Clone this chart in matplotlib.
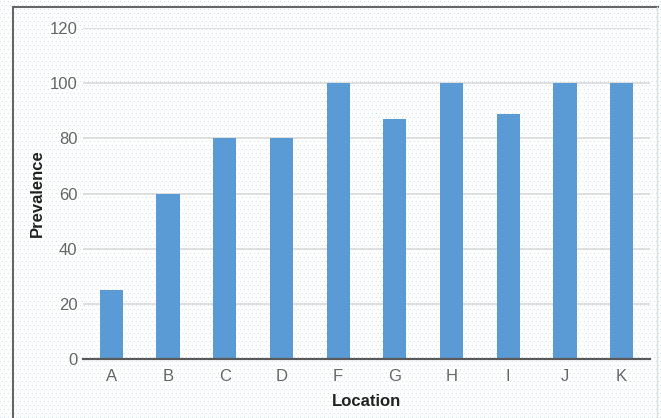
import numpy as np
import matplotlib
matplotlib.use("Agg")
import matplotlib.pyplot as plt
from matplotlib.lines import Line2D

locations = ["A", "B", "C", "D", "F", "G", "H", "I", "J", "K"]
prevalence = [25, 60, 80, 80, 100, 87, 100, 89, 100, 100]
yticks = [0, 20, 40, 60, 80, 100, 120]

plt.rcParams["font.family"] = ["Liberation Sans", "DejaVu Sans"]

W, H = 661, 418
fig = plt.figure(figsize=(W / 100, H / 100), dpi=100)

# faint dotted background texture
bg = np.ones((H, W, 3))
dot = np.array([0.80, 0.89, 0.97])
for yy in range(1, H, 4):
    off = 0 if (yy // 4) % 2 == 0 else 2
    bg[yy, off::4] = dot
im = fig.figimage(bg, xo=0, yo=0, origin="upper")
im.set_zorder(-1)

ax = fig.add_axes([83 / W, 59 / H, 567 / W, 331 / H])
ax.set_facecolor("none")

x = np.arange(len(locations))
ax.bar(x, prevalence, width=0.41, color="#5B9BD5", zorder=3)

ax.set_xlim(-0.5, len(locations) - 0.5)
ax.set_ylim(0, 120)
ax.set_yticks(yticks)
ax.set_xticks(x)
ax.set_xticklabels(locations)

for s in ["top", "right", "left"]:
    ax.spines[s].set_visible(False)
ax.spines["bottom"].set_color("#595959")
ax.spines["bottom"].set_linewidth(1.6)
ax.spines["bottom"].set_zorder(4)

ax.yaxis.grid(True, color="#d9d9d9", linewidth=1.2, zorder=1)
ax.set_axisbelow(True)
ax.tick_params(axis="both", length=0, labelsize=12, labelcolor="#666666")
ax.tick_params(axis="y", pad=4)
ax.tick_params(axis="x", pad=7)

ax.set_ylabel("Prevalence", fontsize=12, fontweight="bold", color="#222222")
ax.set_xlabel("Location", fontsize=12, fontweight="bold", color="#222222")
ax.yaxis.set_label_coords(-0.068, 0.5)
ax.xaxis.set_label_coords(0.5, -0.105)

# outer frame
fig.add_artist(Line2D([13.5 / W, 13.5 / W], [0, 1 - 6.5 / H], color="#666666", lw=1.5, transform=fig.transFigure))
fig.add_artist(Line2D([13.5 / W, 657.5 / W], [1 - 6.5 / H, 1 - 6.5 / H], color="#666666", lw=1.5, transform=fig.transFigure))
fig.add_artist(Line2D([656.5 / W, 656.5 / W], [0, 1 - 6.5 / H], color="#dddddd", lw=1, transform=fig.transFigure))

fig.savefig("out.png", dpi=100)
